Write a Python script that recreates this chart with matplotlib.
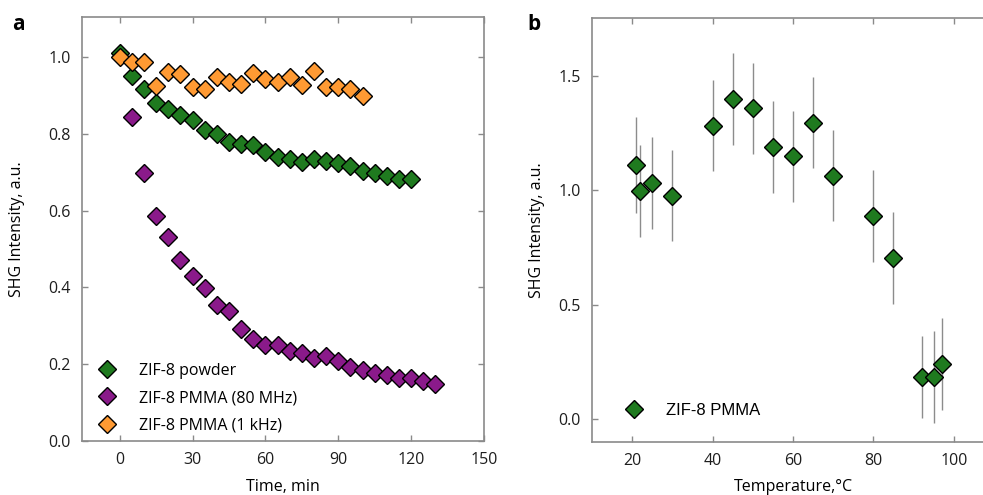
import matplotlib
matplotlib.use("Agg")
import matplotlib.pyplot as plt

# panel a: SHG decay vs time
time_powder = [0, 5, 10, 15, 20, 25, 30, 35, 40, 45, 50, 55, 60, 65, 70, 75, 80,
               85, 90, 95, 100, 105, 110, 115, 120]
shg_powder = [1.01, 0.95, 0.916, 0.88, 0.865, 0.85, 0.835, 0.81, 0.80, 0.78, 0.774,
              0.77, 0.752, 0.74, 0.735, 0.726, 0.735, 0.73, 0.724, 0.716, 0.704,
              0.697, 0.69, 0.683, 0.683]

time_80mhz = [5, 10, 15, 20, 25, 30, 35, 40, 45, 50, 55, 60, 65, 70, 75, 80, 85,
              90, 95, 100, 105, 110, 115, 120, 125, 130]
shg_80mhz = [0.843, 0.697, 0.587, 0.532, 0.472, 0.429, 0.398, 0.355, 0.338, 0.293,
             0.267, 0.251, 0.249, 0.234, 0.229, 0.216, 0.221, 0.208, 0.192, 0.186,
             0.177, 0.173, 0.165, 0.163, 0.156, 0.149]

time_1khz = [0, 5, 10, 15, 20, 25, 30, 35, 40, 45, 50, 55, 60, 65, 70, 75, 80, 85,
             90, 95, 100]
shg_1khz = [1.0, 0.987, 0.987, 0.926, 0.96, 0.957, 0.923, 0.917, 0.948, 0.935, 0.93,
            0.958, 0.943, 0.935, 0.948, 0.928, 0.963, 0.923, 0.922, 0.917, 0.90]

# panel b: SHG vs temperature
temp = [21, 22, 25, 30, 40, 45, 50, 55, 60, 65, 70, 80, 85, 92, 95, 97]
shg_temp = [1.113, 0.997, 1.033, 0.978, 1.283, 1.399, 1.359, 1.19, 1.149, 1.297,
            1.065, 0.888, 0.704, 0.184, 0.184, 0.242]
shg_err = [0.21, 0.2, 0.2, 0.2, 0.2, 0.2, 0.2, 0.2, 0.2, 0.2, 0.2, 0.2, 0.2, 0.18,
           0.2, 0.2]

GREEN = "#1f7a1f"
PURPLE = "#8a1a8a"
ORANGE = "#ff9a33"
SPINE = "#8a8a8a"
FS = 11.5

plt.rcParams["font.family"] = ["Open Sans", "DejaVu Sans"]
plt.rcParams["font.size"] = FS


def style_axes(ax):
    for s in ax.spines.values():
        s.set_color(SPINE)
        s.set_linewidth(1.2)
    ax.tick_params(direction="in", length=4, width=1, color=SPINE,
                   top=True, right=True, labelsize=FS, labelcolor="#1e1e1e",
                   pad=8)


def plot_time(ax):
    mk = dict(marker="D", markersize=9, markeredgecolor="black",
              markeredgewidth=1.0, linestyle="none")
    ax.plot(time_powder, shg_powder, color=GREEN, label="ZIF-8 powder", **mk)
    ax.plot(time_80mhz, shg_80mhz, color=PURPLE, label="ZIF-8 PMMA (80 MHz)", **mk)
    ax.plot(time_1khz, shg_1khz, color=ORANGE, label="ZIF-8 PMMA (1 kHz)", **mk)

    ax.set_xlim(-15.5, 150)
    ax.set_ylim(0, 1.105)
    ax.set_xticks([0, 30, 60, 90, 120, 150])
    ax.set_yticks([0.0, 0.2, 0.4, 0.6, 0.8, 1.0])
    ax.set_xlabel("Time, min", labelpad=8)
    ax.set_ylabel("SHG Intensity, a.u.", labelpad=17)
    style_axes(ax)
    ax.legend(loc="lower left", bbox_to_anchor=(-0.005, -0.008), frameon=False,
              handletextpad=1.0, labelspacing=0.7, borderaxespad=0.3,
              fontsize=FS)


def plot_temp(ax):
    ax.errorbar(temp, shg_temp, yerr=shg_err, fmt="none", ecolor="#8c8c8c",
                elinewidth=1.0, capsize=0)
    ax.plot(temp, shg_temp, marker="D", markersize=9, color=GREEN,
            markeredgecolor="black", markeredgewidth=1.0, linestyle="none",
            label="ZIF-8 PMMA")

    ax.set_xlim(10, 110)
    ax.set_ylim(-0.1, 1.755)
    ax.set_xticks([20, 40, 60, 80, 100])
    ax.set_yticks([0.0, 0.5, 1.0, 1.5])
    ax.set_xlabel("Temperature,\u00b0C", labelpad=7)
    ax.set_ylabel("SHG Intensity, a.u.", labelpad=10)
    style_axes(ax)
    ax.legend(loc="lower left", bbox_to_anchor=(0.035, 0.03), frameon=False,
              handletextpad=0.9, borderaxespad=0.3,
              prop={"family": "Liberation Sans", "size": 12})


fig = plt.figure(figsize=(9.83, 4.95), dpi=100)
ax_a = fig.add_axes([0.0834, 0.109, 0.409, 0.857])
ax_b = fig.add_axes([0.6022, 0.107, 0.409, 0.857])

plot_time(ax_a)
plot_temp(ax_b)

fig.text(0.012, 0.94, "a", fontsize=15, fontweight="bold")
fig.text(0.537, 0.94, "b", fontsize=15, fontweight="bold")

fig.savefig("out.png", dpi=100)
